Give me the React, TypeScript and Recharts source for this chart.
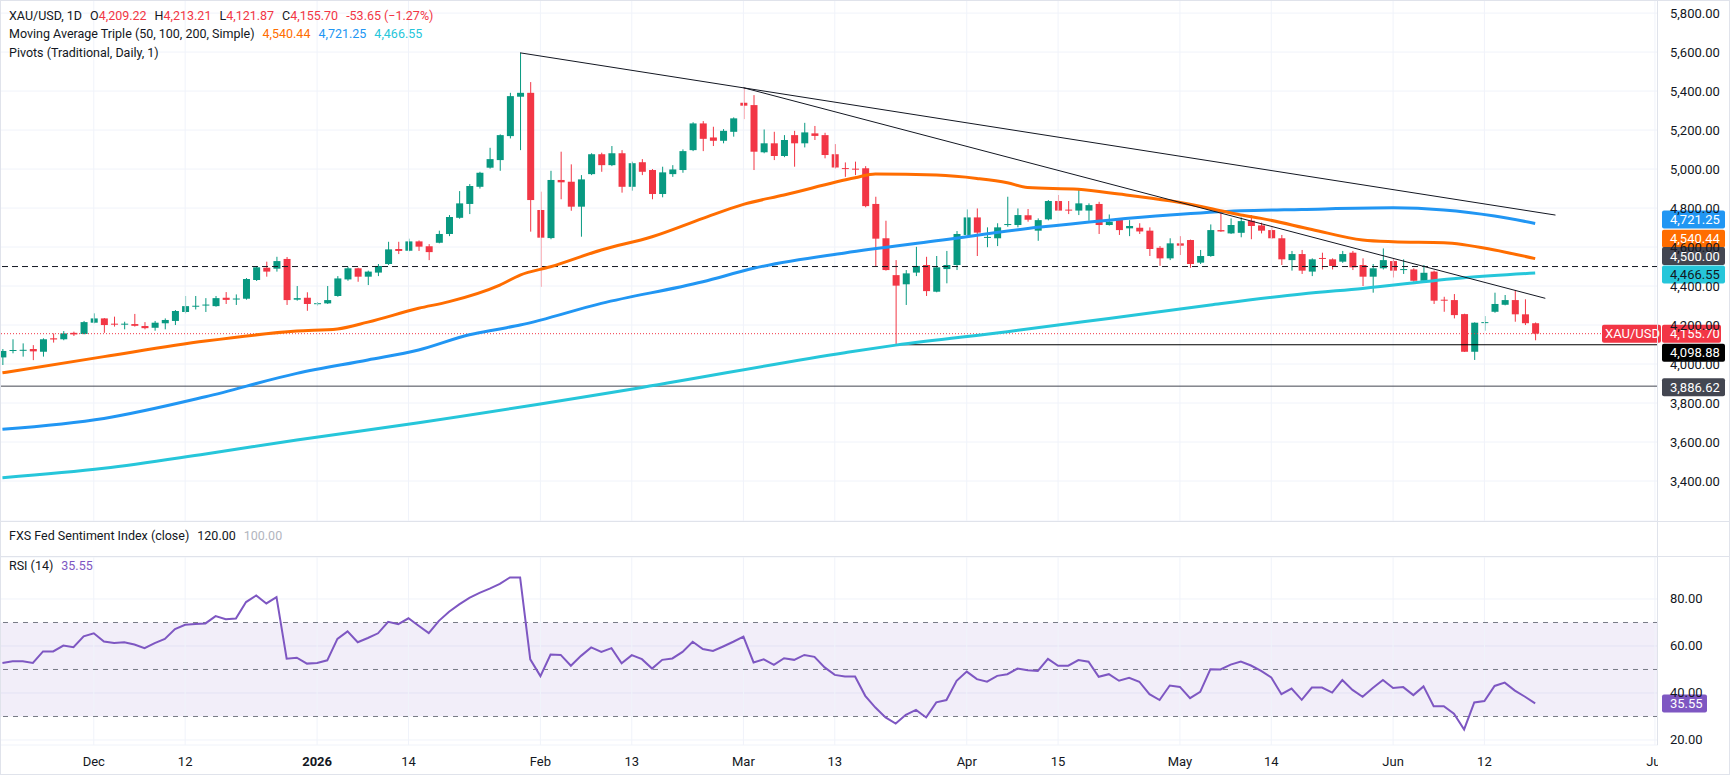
import React from 'react';
import {
  ComposedChart,
  Bar,
  Line,
  XAxis,
  YAxis,
  CartesianGrid,
  ReferenceLine,
  ReferenceArea,
} from 'recharts';

// daily OHLC, bar index 0 = 18 Nov 2025 ... 151 = 19 Jun 2026
const opens = [
  4034, 4068, 4070, 4077, 4063, 4132, 4127, 4160, 4154, 4212, 4234, 4207, 4203, 4205, 4195, 4186, 4209, 4221, 4267, 4295,
  4300, 4297, 4340, 4333, 4335, 4431, 4494, 4489, 4539, 4330, 4340, 4309, 4311, 4349, 4434, 4491, 4448, 4469, 4513, 4590,
  4581, 4629, 4604, 4622, 4667, 4750, 4821, 4909, 5007, 5046, 5169, 5371, 5391, 4790, 4646, 4944, 4935, 4807, 4974, 5076,
  5020, 5081, 4909, 5035, 4995, 4872, 4974, 4995, 5097, 5234, 5162, 5145, 5191, 5340, 5328, 5086, 5132, 5067, 5174, 5132,
  5183, 5174, 5076, 5005, 5002, 5004, 4821, 4645, 4456, 4409, 4469, 4508, 4371, 4487, 4508, 4662, 4752, 4648, 4645, 4714,
  4713, 4763, 4684, 4742, 4836, 4792, 4787, 4787, 4821, 4713, 4742, 4696, 4699, 4684, 4596, 4542, 4619, 4636, 4520, 4554,
  4687, 4670, 4673, 4735, 4711, 4687, 4645, 4533, 4564, 4474, 4544, 4537, 4525, 4571, 4508, 4448, 4491, 4528, 4482, 4485,
  4427, 4474, 4330, 4328, 4256, 4063, 4210, 4268, 4304, 4328, 4255, 4209.22,
];
const highs = [
  4077, 4127, 4106, 4097, 4132, 4157, 4169, 4166, 4221, 4260, 4236, 4243, 4217, 4257, 4215, 4221, 4234, 4277, 4349, 4349,
  4338, 4349, 4369, 4357, 4441, 4503, 4525, 4550, 4549, 4400, 4368, 4318, 4400, 4451, 4499, 4494, 4479, 4513, 4627, 4627,
  4643, 4634, 4615, 4684, 4764, 4887, 4923, 4986, 5109, 5178, 5391, 5596, 5446, 4884, 4991, 5089, 5024, 4969, 5081, 5084,
  5118, 5097, 5038, 5051, 5000, 5012, 5020, 5101, 5240, 5246, 5217, 5205, 5265, 5417, 5379, 5203, 5191, 5174, 5196, 5237,
  5221, 5186, 5128, 5034, 5038, 5015, 4858, 4735, 4533, 4482, 4601, 4550, 4554, 4580, 4682, 4793, 4798, 4701, 4722, 4858,
  4798, 4795, 4747, 4841, 4867, 4836, 4896, 4824, 4832, 4767, 4747, 4738, 4722, 4701, 4605, 4645, 4656, 4638, 4585, 4716,
  4776, 4747, 4752, 4764, 4725, 4708, 4662, 4580, 4585, 4542, 4571, 4542, 4580, 4580, 4542, 4513, 4593, 4542, 4537, 4491,
  4508, 4479, 4345, 4359, 4258, 4214, 4246, 4366, 4354, 4380, 4332, 4213.21,
];
const lows = [
  3995, 4055, 4038, 4020, 4038, 4110, 4122, 4144, 4152, 4209, 4160, 4192, 4178, 4192, 4178, 4171, 4178, 4200, 4260, 4280,
  4267, 4294, 4308, 4303, 4330, 4426, 4448, 4474, 4303, 4325, 4273, 4300, 4308, 4345, 4427, 4422, 4405, 4451, 4508, 4564,
  4578, 4580, 4533, 4619, 4656, 4745, 4769, 4900, 5002, 4991, 5157, 5097, 4679, 4396, 4640, 4845, 4786, 4653, 4969, 4986,
  5015, 4879, 4889, 4969, 4845, 4855, 4960, 4981, 5092, 5092, 5118, 5132, 5166, 5256, 4995, 5081, 5046, 5061, 5012, 5111,
  5149, 5055, 5003, 4960, 4969, 4804, 4499, 4479, 4097, 4303, 4451, 4349, 4368, 4414, 4482, 4656, 4554, 4599, 4605, 4704,
  4701, 4730, 4632, 4737, 4785, 4769, 4764, 4735, 4667, 4710, 4662, 4656, 4667, 4554, 4504, 4533, 4559, 4494, 4513, 4550,
  4678, 4667, 4650, 4640, 4670, 4641, 4508, 4479, 4462, 4451, 4485, 4485, 4519, 4482, 4400, 4366, 4485, 4444, 4462, 4422,
  4422, 4308, 4268, 4234, 4062, 4021, 4171, 4263, 4301, 4217, 4200, 4121.87,
];
const closes = [
  4067, 4072, 4073, 4065, 4127, 4126, 4157, 4152, 4215, 4234, 4200, 4203, 4207, 4196, 4184, 4212, 4226, 4272, 4297, 4299,
  4305, 4338, 4329, 4336, 4436, 4496, 4474, 4528, 4328, 4338, 4308, 4312, 4328, 4439, 4491, 4448, 4474, 4503, 4588, 4580,
  4629, 4602, 4574, 4667, 4754, 4824, 4913, 4981, 5051, 5174, 5374, 5391, 4841, 4648, 4944, 4932, 4807, 4947, 5076, 5020,
  5081, 4909, 5030, 4986, 4872, 4983, 4998, 5092, 5234, 5155, 5145, 5196, 5260, 5325, 5089, 5132, 5067, 5149, 5132, 5188,
  5170, 5072, 5008, 5001, 4998, 4810, 4643, 4482, 4402, 4465, 4503, 4374, 4496, 4508, 4667, 4752, 4674, 4652, 4701, 4718,
  4764, 4740, 4738, 4836, 4787, 4788, 4824, 4815, 4713, 4730, 4687, 4708, 4680, 4590, 4542, 4619, 4607, 4513, 4554, 4687,
  4680, 4713, 4733, 4708, 4684, 4645, 4537, 4564, 4479, 4537, 4540, 4503, 4564, 4496, 4448, 4491, 4533, 4479, 4487, 4427,
  4468, 4325, 4326, 4251, 4063, 4212, 4215, 4308, 4328, 4255, 4209.35, 4155.7,
];

const rsiValues = [
  52.8, 53.5, 53.5, 52.8, 57.7, 57.7, 60.2, 59.5, 64.1, 65.4, 61.9, 61.3, 61.6, 60.6, 59.1, 61.2, 63.0, 67.2, 69.0, 69.4,
  69.6, 72.7, 71.4, 71.7, 78.7, 81.5, 78.1, 80.8, 54.6, 55.0, 52.5, 52.8, 53.9, 63.0, 66.2, 61.6, 63.4, 65.4, 70.3, 69.3,
  71.8, 68.6, 65.5, 70.7, 74.6, 77.7, 80.5, 82.6, 84.4, 86.4, 89.2, 89.2, 54.3, 47.2, 56.4, 56.2, 51.6, 55.8, 59.4, 57.5,
  59.1, 52.6, 56.1, 54.4, 50.4, 54.1, 54.7, 57.5, 61.8, 58.7, 57.9, 59.8, 61.8, 64.0, 53.0, 54.3, 52.0, 54.8, 54.1, 56.2,
  55.4, 50.9, 47.7, 47.0, 47.0, 38.8, 33.8, 29.6, 27.0, 30.7, 32.8, 29.6, 36.0, 37.0, 45.2, 49.1, 45.9, 44.8, 47.3, 48.0,
  50.4, 49.7, 49.4, 54.5, 51.6, 51.6, 54.0, 53.3, 46.9, 48.0, 45.2, 46.5, 44.8, 39.5, 37.0, 43.2, 42.6, 37.8, 40.5, 50.1,
  50.0, 52.1, 53.4, 51.7, 49.4, 46.6, 39.5, 41.9, 37.1, 42.3, 42.3, 40.2, 45.5, 41.3, 38.4, 42.1, 45.5, 42.1, 42.5, 39.1,
  42.8, 34.4, 34.4, 31.2, 24.5, 36.0, 36.6, 43.0, 44.4, 41.0, 38.4, 35.55,
];

// moving averages as [bar index, value]
const sma50Points = [
  [0, 3955], [10, 4038], [20, 4118], [29, 4169], [33, 4180], [36, 4215], [41, 4286], [44, 4320], [49, 4405],
  [51, 4456], [54, 4499], [59, 4585], [64, 4653], [69, 4747], [73, 4819], [77, 4867], [84, 4955], [86, 4975],
  [92, 4969], [96, 4952], [99, 4930], [101, 4905], [106, 4896], [110, 4872], [115, 4837], [119, 4798], [122, 4764],
  [124, 4747], [129, 4690], [134, 4636], [137, 4627], [142, 4622], [147, 4585], [151, 4540.44],
];
const sma100Points = [
  [0, 3665], [10, 3721], [20, 3832], [29, 3952], [36, 4021], [41, 4072], [46, 4150], [49, 4180], [51, 4200],
  [59, 4311], [69, 4422], [74, 4491], [83, 4570], [92, 4632], [102, 4701], [109, 4738], [115, 4764], [122, 4786],
  [128, 4793], [137, 4801], [142, 4790], [147, 4759], [151, 4721.25],
];
const sma200Points = [
  [0, 3417], [10, 3465], [20, 3539], [29, 3610], [41, 3699], [63, 3880], [83, 4058], [88, 4097], [99, 4166],
  [109, 4234], [119, 4303], [128, 4359], [134, 4388], [144, 4443], [151, 4466.55],
];

// hand-drawn trendlines
const trendUpper = [[51, 5596], [153, 4764]];
const trendLower = [[73, 5417], [152, 4337]];

const pivotP = 4500;
const pivotS1 = 4098.88;
const pivotS2 = 3886.62;
const lastClose = 4155.7;
const lastRsi = 35.55;

const xTickIdx = [9, 18, 31, 40, 53, 62, 73, 82, 95, 104, 116, 125, 137, 146, 162.8];
const xTickLabels = ['Dec', '12', '2026', '14', 'Feb', '13', 'Mar', '13', 'Apr', '15', 'May', '14', 'Jun', '12', 'Jul'];
const priceTicks = [3400, 3600, 3800, 4000, 4200, 4400, 4600, 4800, 5000, 5200, 5400, 5600, 5800];
const rsiTicks = [20, 40, 60, 80];

const X_DOMAIN: [number, number] = [-0.24, 163.1];
const GREEN = '#089981';
const RED = '#f23645';
const TEXT = '#131722';
const GRID = '#f0f3fa';
const FONT = "Roboto, 'Liberation Sans', sans-serif";

// one table: candles plus the sparse overlay points (null elsewhere)
const pick = (pts: number[][], i: number) => {
  const hit = pts.find((p) => p[0] === i);
  return hit ? hit[1] : null;
};
const priceData = Array.from({ length: 154 }, (_, i) => ({
  i,
  o: opens[i] ?? null,
  h: highs[i] ?? null,
  l: lows[i] ?? null,
  c: closes[i] ?? null,
  sma50: pick(sma50Points, i),
  sma100: pick(sma100Points, i),
  sma200: pick(sma200Points, i),
  tUp: pick(trendUpper, i),
  tLo: pick(trendLower, i),
}));
const rsiData = rsiValues.map((rsi, i) => ({ i, rsi }));

const fmt = (v: number) =>
  v.toLocaleString('en-US', { minimumFractionDigits: 2, maximumFractionDigits: 2 });

const Candle = (props: any) => {
  const { x, y, width, height, payload } = props;
  if (!payload || payload.h == null) return null;
  const top = Math.min(y, y + height);
  const span = Math.abs(height);
  const { o, h, l, c } = payload;
  const color = c >= o ? GREEN : RED;
  const ratio = span / (h - l || 1);
  const bodyTop = top + (h - Math.max(o, c)) * ratio;
  const bodyH = Math.max(1, Math.abs(o - c) * ratio);
  const cx = x + width / 2;
  return (
    <g>
      <line x1={cx} x2={cx} y1={top} y2={top + span} stroke={color} strokeWidth={1} />
      <rect x={x} y={bodyTop} width={width} height={bodyH} fill={color} />
    </g>
  );
};

const AxisTick = (props: any) => (
  <text x={props.x + 12} y={props.y} dominantBaseline="central" fill={TEXT} fontSize={13} fontFamily={FONT}>
    {fmt(props.payload.value)}
  </text>
);

const DateTick = (props: any) => {
  const { x, y, payload } = props;
  const k = xTickIdx.indexOf(payload.value);
  const label = xTickLabels[k] ?? '';
  const clipped = label === 'Jul';
  const t = (
    <text
      x={clipped ? 20 : x}
      y={clipped ? 16 : y + 16}
      textAnchor="middle"
      dominantBaseline="central"
      fill={TEXT}
      fontSize={13}
      fontFamily={FONT}
      fontWeight={label === '2026' ? 700 : 400}
    >
      {label}
    </text>
  );
  // the last month label is cut by the price scale, as in the source
  if (clipped) {
    return (
      <svg x={x - 20} y={y} width={23} height={30}>
        {t}
      </svg>
    );
  }
  return t;
};

// coloured value box on the price scale
const Tag = (props: any) => {
  const vb = props.viewBox || {};
  const right = (vb.x ?? 0) + (vb.width ?? 0);
  const cy = (vb.y ?? 0) + (props.tagShift || 0);
  return (
    <g>
      {props.tagName && (
        <>
          <rect x={right - 56} y={cy - 9} width={59} height={18} rx={2} fill={props.tagBg} />
          <text x={right - 53} y={cy} dominantBaseline="central" fill="#fff" fontSize={13} fontFamily={FONT}>
            {props.tagName}
          </text>
        </>
      )}
      <rect x={right + 4} y={cy - 9} width={props.tagW || 63} height={18} rx={2} fill={props.tagBg} />
      <text x={right + 12} y={cy} dominantBaseline="central" fill={props.tagFg} fontSize={13} fontFamily={FONT}>
        {props.tagText}
      </text>
    </g>
  );
};

const App: React.FC = () => {
  return (
    <div
      style={{
        position: 'absolute',
        left: 0,
        top: 0,
        width: 1730,
        height: 775,
        background: '#fff',
        overflow: 'hidden',
        fontFamily: FONT,
        color: TEXT,
      }}
    >
      {/* Price pane */}
      <div style={{ position: 'absolute', left: 0, top: 0 }}>
        <ComposedChart width={1730} height={521} data={priceData} margin={{ top: 0, right: 0, bottom: 0, left: 0 }}>
          <CartesianGrid vertical={false} stroke={GRID} />
          {xTickIdx.map((t) => (
            <ReferenceLine key={'gx' + t} x={t} stroke={GRID} />
          ))}
          <XAxis dataKey="i" type="number" domain={X_DOMAIN} allowDataOverflow hide />
          <YAxis
            orientation="right"
            width={72}
            domain={[3195, 5867]}
            ticks={priceTicks}
            allowDataOverflow
            axisLine={false}
            tickLine={false}
            tickSize={0}
            tickMargin={0}
            tick={<AxisTick />}
          />

          <ReferenceLine y={pivotP} stroke={TEXT} strokeDasharray="6 4" />
          <ReferenceLine y={pivotS2} stroke="#434651" />
          <ReferenceLine
            segment={[
              { x: 88, y: pivotS1 },
              { x: X_DOMAIN[1], y: pivotS1 },
            ]}
            stroke="#000"
          />
          <ReferenceLine y={lastClose} stroke={RED} strokeDasharray="1 2" />

          <Line dataKey="sma200" type="monotone" connectNulls stroke="#26c6da" strokeWidth={3} dot={false} activeDot={false} isAnimationActive={false} />
          <Line dataKey="sma100" type="monotone" connectNulls stroke="#2196f3" strokeWidth={3} dot={false} activeDot={false} isAnimationActive={false} />
          <Line dataKey="sma50" type="monotone" connectNulls stroke="#ff6d00" strokeWidth={3} dot={false} activeDot={false} isAnimationActive={false} />
          <Line dataKey="tUp" type="linear" connectNulls stroke={TEXT} strokeWidth={1} dot={false} activeDot={false} isAnimationActive={false} />
          <Line dataKey="tLo" type="linear" connectNulls stroke={TEXT} strokeWidth={1} dot={false} activeDot={false} isAnimationActive={false} />

          <Bar
            dataKey={(d: any) => (d.h == null ? null : [d.l, d.h])}
            barSize={7}
            shape={<Candle />}
            isAnimationActive={false}
          />

          <ReferenceLine y={4721.25} stroke="none" label={<Tag tagText="4,721.25" tagBg="#2196f3" tagFg="#fff" tagShift={-4} />} />
          <ReferenceLine y={4540.44} stroke="none" label={<Tag tagText="4,540.44" tagBg="#ff6d00" tagFg="#fff" tagShift={-20} />} />
          <ReferenceLine y={pivotP} stroke="none" label={<Tag tagText="4,500.00" tagBg="#434651" tagFg="#fff" tagShift={-10.5} />} />
          <ReferenceLine y={4466.55} stroke="none" label={<Tag tagText="4,466.55" tagBg="#26c6da" tagFg={TEXT} tagShift={1.5} />} />
          <ReferenceLine
            y={lastClose}
            stroke="none"
            label={<Tag tagText="4,155.70" tagName="XAU/USD" tagBg={RED} tagFg="#fff" tagW={59} />}
          />
          <ReferenceLine y={pivotS1} stroke="none" label={<Tag tagText="4,098.88" tagBg="#000" tagFg="#fff" tagShift={8} />} />
          <ReferenceLine y={pivotS2} stroke="none" label={<Tag tagText="3,886.62" tagBg="#434651" tagFg="#fff" tagShift={1} />} />
        </ComposedChart>
      </div>

      {/* RSI pane */}
      <div style={{ position: 'absolute', left: 0, top: 557 }}>
        <ComposedChart width={1730} height={218} data={rsiData} margin={{ top: 0, right: 0, bottom: 0, left: 0 }}>
          <CartesianGrid vertical={false} stroke={GRID} />
          {xTickIdx.map((t) => (
            <ReferenceLine key={'rx' + t} x={t} stroke={GRID} />
          ))}
          <XAxis
            dataKey="i"
            type="number"
            domain={X_DOMAIN}
            allowDataOverflow
            ticks={xTickIdx}
            interval={0}
            height={30}
            axisLine={false}
            tickLine={false}
            tickSize={0}
            tickMargin={0}
            tick={<DateTick />}
          />
          <YAxis
            orientation="right"
            width={72}
            domain={[17.87, 97.87]}
            ticks={rsiTicks}
            allowDataOverflow
            axisLine={false}
            tickLine={false}
            tickSize={0}
            tickMargin={0}
            tick={<AxisTick />}
          />
          <ReferenceArea y1={30} y2={70} fill="#7e57c2" fillOpacity={0.1} stroke="none" />
          <ReferenceLine y={70} stroke="#787b86" strokeDasharray="5 5" />
          <ReferenceLine y={50} stroke="#787b86" strokeDasharray="5 5" />
          <ReferenceLine y={30} stroke="#787b86" strokeDasharray="5 5" />
          <Line dataKey="rsi" type="linear" stroke="#7e57c2" strokeWidth={2} dot={false} activeDot={false} isAnimationActive={false} />
          <ReferenceLine y={lastRsi} stroke="none" label={<Tag tagText="35.55" tagBg="#7e57c2" tagFg="#fff" tagW={45} />} />
        </ComposedChart>
      </div>

      {/* pane separators and frame */}
      <div style={{ position: 'absolute', left: 0, top: 521, width: 1730, height: 36, borderTop: '1px solid #e0e3eb', borderBottom: '1px solid #e0e3eb', boxSizing: 'border-box', background: '#fff' }} />
      <div style={{ position: 'absolute', left: 1657, top: 0, width: 1, height: 745, background: '#e0e3eb' }} />
      <div style={{ position: 'absolute', left: 0, top: 0, width: 1730, height: 775, border: '1px solid #e0e3eb', boxSizing: 'border-box', pointerEvents: 'none' }} />

      {/* legends */}
      <div style={{ position: 'absolute', left: 9, top: 7, fontSize: 12.5, lineHeight: '18.3px', whiteSpace: 'nowrap' }}>
        <div>
          XAU/USD, 1D
          <span style={{ marginLeft: 8 }}>O<span style={{ color: RED }}>{fmt(opens[151])}</span></span>
          <span style={{ marginLeft: 8 }}>H<span style={{ color: RED }}>{fmt(highs[151])}</span></span>
          <span style={{ marginLeft: 8 }}>L<span style={{ color: RED }}>{fmt(lows[151])}</span></span>
          <span style={{ marginLeft: 8 }}>C<span style={{ color: RED }}>{fmt(closes[151])}</span></span>
          <span style={{ marginLeft: 8, color: RED }}>-53.65 (−1.27%)</span>
        </div>
        <div>
          Moving Average Triple (50, 100, 200, Simple)
          <span style={{ marginLeft: 8, color: '#ff6d00' }}>4,540.44</span>
          <span style={{ marginLeft: 8, color: '#2196f3' }}>4,721.25</span>
          <span style={{ marginLeft: 8, color: '#26c6da' }}>4,466.55</span>
        </div>
        <div>Pivots (Traditional, Daily, 1)</div>
      </div>
      <div style={{ position: 'absolute', left: 9, top: 527, fontSize: 12.5, lineHeight: '18px', whiteSpace: 'nowrap' }}>
        FXS Fed Sentiment Index (close)
        <span style={{ marginLeft: 8 }}>120.00</span>
        <span style={{ marginLeft: 8, color: '#b2b5be' }}>100.00</span>
      </div>
      <div style={{ position: 'absolute', left: 9, top: 557, fontSize: 12.5, lineHeight: '18px', whiteSpace: 'nowrap' }}>
        RSI (14)
        <span style={{ marginLeft: 8, color: '#7e57c2' }}>35.55</span>
      </div>
    </div>
  );
};

export default App;
